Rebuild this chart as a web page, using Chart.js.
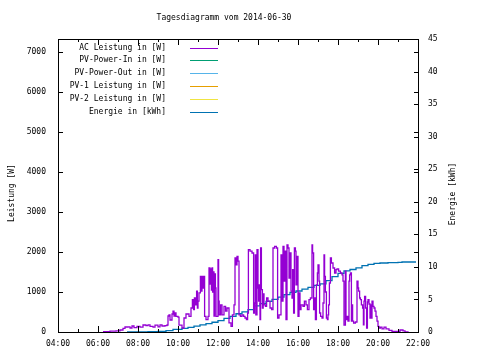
<!DOCTYPE html>
<html>
<head>
<meta charset="utf-8">
<script src="https://cdn.jsdelivr.net/npm/chart.js@4/dist/chart.umd.min.js"></script>
<style>
  html, body { margin: 0; padding: 0; background: #fff; }
  canvas { display: block; }
</style>
</head>
<body>
<canvas id="myChart" width="480" height="360"></canvas>
<script>
/* DATA */

// AC power, time of day in hours (each value holds until the next time)
const acHours = [
  6.25, 6.6, 6.9,
  7.1, 7.25, 7.35, 7.5, 7.6, 7.7, 7.8, 7.95,
  8.1, 8.25, 8.4, 8.5, 8.6, 8.75, 8.85,
  9.0, 9.1, 9.2, 9.35, 9.45, 9.5, 9.55, 9.6, 9.7, 9.75, 9.8, 9.85, 9.9,
  10.0, 10.05, 10.2, 10.3, 10.4, 10.55, 10.65, 10.72, 10.78, 10.82, 10.87, 10.93, 10.97,
  11.0, 11.05, 11.12, 11.17, 11.2, 11.24, 11.28, 11.33, 11.4, 11.5, 11.55, 11.6, 11.63, 11.67, 11.7, 11.73, 11.77, 11.8, 11.83, 11.87, 11.9,
  12.0, 12.03, 12.06, 12.13, 12.2, 12.3, 12.38, 12.45, 12.55, 12.65, 12.72, 12.8, 12.85, 12.9, 12.95,
  13.0, 13.05, 13.12, 13.2, 13.28, 13.35, 13.42, 13.48, 13.52, 13.6, 13.7, 13.78, 13.82, 13.86, 13.89, 13.95,
  14.0, 14.03, 14.06, 14.1, 14.13, 14.17, 14.22, 14.26, 14.3, 14.37, 14.43, 14.5, 14.6, 14.68, 14.75, 14.83, 14.92, 14.98,
  15.05, 15.15, 15.2, 15.25, 15.3, 15.35, 15.4, 15.45, 15.5, 15.55, 15.6, 15.65, 15.7, 15.73, 15.78, 15.82, 15.87, 15.9, 15.95,
  16.0, 16.05, 16.1, 16.15, 16.25, 16.32, 16.4, 16.47, 16.55, 16.62, 16.7, 16.73, 16.78, 16.82, 16.87, 16.92, 16.97,
  17.0, 17.05, 17.08, 17.13, 17.2, 17.25, 17.3, 17.33, 17.37, 17.42, 17.47, 17.5, 17.53, 17.57, 17.62, 17.67, 17.75, 17.83, 17.9, 17.95,
  18.03, 18.12, 18.2, 18.25, 18.3, 18.37, 18.4, 18.45, 18.5, 18.55, 18.58, 18.62, 18.67, 18.7, 18.73, 18.78, 18.87, 18.95,
  19.0, 19.03, 19.08, 19.12, 19.17, 19.23, 19.27, 19.3, 19.33, 19.38, 19.43, 19.47, 19.5, 19.55, 19.6, 19.63, 19.67, 19.7, 19.75, 19.8, 19.85, 19.9, 19.95,
  20.0, 20.05, 20.12, 20.2, 20.3, 20.4, 20.55, 20.7, 21.1, 21.25, 21.35, 21.5
];
const acWatts = [
  10, 20, 30,
  50, 90, 125, 130, 100, 150, 110, 140,
  120, 175, 160, 180, 140, 120, 170,
  130, 180, 150, 160, 175, 400, 430, 300, 450, 520, 400, 475, 390,
  370, 170, 100, 350, 450, 390, 600, 810, 560, 850, 680, 1020, 600,
  770, 980, 1390, 1020, 1390, 1100, 1390, 390, 310, 390, 1600, 1200, 1580, 1050, 1600, 1000, 1500, 400, 1450, 1100, 390,
  1810, 770, 430, 680, 430, 640, 520, 600, 230, 140, 430, 680, 1850, 1680, 1890,
  1770, 430, 390, 430, 390, 350, 310, 475, 2060, 2020, 1975, 475, 725, 1930, 430, 2060,
  1100, 770, 1180, 310, 2100, 1060, 600, 950, 680, 640, 850, 770, 600, 560, 2100, 2140, 2100, 350,
  430, 1930, 770, 2140, 1270, 2020, 310, 2180, 2100, 1350, 1975, 1020, 850, 1560, 475, 2100, 2020, 1180, 1890,
  390, 975, 560, 680, 640, 770, 680, 560, 810, 850, 2180, 1975, 560, 850, 310, 1180, 1475,
  1680, 1270, 475, 390, 350, 725, 1930, 1390, 1000, 350, 310, 430, 680, 1225, 1850, 1725, 1600, 1475, 1560, 1580,
  1520, 1475, 1430, 1270, 170, 1520, 310, 390, 270, 1270, 1430, 1475, 270, 680, 270, 225, 250, 1270,
  1100, 1020, 850, 810, 680, 600, 180, 770, 890, 600, 100, 750, 810, 700, 350, 680, 350, 770, 640, 600, 520, 390, 270,
  140, 100, 120, 80, 120, 80, 40, 17, 50, 30, 5, 0
];

// daily energy, kWh
const energyHours = [
  7.45, 8.5, 9.0, 9.4, 9.75, 10.2, 10.5, 10.8, 11.1, 11.4,
  11.7, 12.0, 12.3, 12.6, 12.9, 13.2, 13.5, 13.8, 14.1, 14.4,
  14.7, 15.0, 15.3, 15.6, 15.9, 16.2, 16.5, 16.8, 17.1, 17.4,
  17.7, 18.0, 18.3, 18.6, 18.9, 19.2, 19.5, 19.8, 20.1, 20.5,
  21.0, 21.2, 21.9
];
const energyKWh = [
  0, 0.05, 0.1, 0.2, 0.4, 0.55, 0.7, 0.9, 1.1, 1.3,
  1.5, 1.75, 2.1, 2.4, 2.8, 3.1, 3.45, 4.0, 4.35, 4.7,
  5.0, 5.35, 5.75, 6.1, 6.3, 6.6, 6.85, 7.15, 7.4, 7.9,
  8.5, 9.0, 9.4, 9.6, 9.85, 10.2, 10.4, 10.55, 10.6, 10.65,
  10.7, 10.75, 10.75
];

// series with no readings on this day
const pvInWatts = [];
const pvOutWatts = [];
const pv1Watts = [];
const pv2Watts = [];

const xTickHours = [4, 6, 8, 10, 12, 14, 16, 18, 20, 22];
const yTickValues = [0, 1000, 2000, 3000, 4000, 5000, 6000, 7000];
const y2TickValues = [0, 5, 10, 15, 20, 25, 30, 35, 40, 45];

const FONT = '"DejaVu Sans Mono", "Liberation Mono", monospace';

function toPoints(xs, ys) {
  return xs.map(function (x, i) { return { x: x, y: ys[i] }; });
}

function hourLabel(h) {
  return String(h).padStart(2, '0') + ':00';
}

/* FRAME, TICKS, LEGEND (gnuplot look) */

const gnuplotFrame = {
  id: 'gnuplotFrame',
  afterDatasetsDraw: function (chart) {
    const ctx = chart.ctx;
    const a = chart.chartArea;
    const sx = chart.scales.x, sy = chart.scales.y, sy2 = chart.scales.y2;

    ctx.save();
    ctx.strokeStyle = '#000';
    ctx.lineWidth = 1;
    ctx.strokeRect(a.left + 0.5, a.top + 0.5, a.right - a.left, a.bottom - a.top);

    ctx.beginPath();
    // x tics every hour, longer on the labelled ones
    for (let h = 4; h <= 22; h++) {
      const px = Math.round(sx.getPixelForValue(h)) + 0.5;
      const len = h % 2 === 0 ? 6 : 3;
      ctx.moveTo(px, a.bottom); ctx.lineTo(px, a.bottom - len);
      ctx.moveTo(px, a.top); ctx.lineTo(px, a.top + len);
    }
    // y tics left, mirrored right
    yTickValues.forEach(function (v) {
      const py = Math.round(sy.getPixelForValue(v)) + 0.5;
      ctx.moveTo(a.left, py); ctx.lineTo(a.left + 5, py);
      ctx.moveTo(a.right + 1, py); ctx.lineTo(a.right - 4, py);
    });
    // y2 tics right
    y2TickValues.forEach(function (v) {
      const py = Math.round(sy2.getPixelForValue(v)) + 0.5;
      ctx.moveTo(a.right + 1, py); ctx.lineTo(a.right - 4, py);
    });
    ctx.stroke();

    ctx.fillStyle = '#000';
    ctx.font = '8px ' + FONT;
    ctx.textBaseline = 'middle';

    // title
    ctx.textAlign = 'center';
    ctx.fillText('Tagesdiagramm vom 2014-06-30', 224, 18);

    // axis titles
    ctx.save();
    ctx.translate(12, 193);
    ctx.rotate(-Math.PI / 2);
    ctx.fillText('Leistung [W]', 0, 0);
    ctx.restore();

    ctx.save();
    ctx.translate(453, 194);
    ctx.rotate(-Math.PI / 2);
    ctx.fillText('Energie [kWh]', 0, 0);
    ctx.restore();

    // key, top left inside the plot
    chart.data.datasets.forEach(function (ds, i) {
      const y = 47.5 + i * 12.9;
      ctx.fillStyle = '#000';
      ctx.textAlign = 'right';
      ctx.fillText(ds.label, 166, y);
      const ly = Math.round(y) + 0.5;
      ctx.strokeStyle = ds.borderColor;
      ctx.beginPath();
      ctx.moveTo(190, ly); ctx.lineTo(218, ly);
      ctx.stroke();
    });

    ctx.restore();
  }
};

/* CHART */

const tickFont = { family: FONT, size: 8 };

const ctx = document.getElementById('myChart').getContext('2d');

const chart = new Chart(ctx, {
  type: 'line',
  data: {
    datasets: [
      {
        label: 'AC Leistung in [W]',
        data: toPoints(acHours, acWatts),
        borderColor: '#9400d3',
        borderWidth: 1.3,
        stepped: true,
        pointRadius: 0,
        yAxisID: 'y'
      },
      {
        label: 'PV-Power-In in [W]',
        data: pvInWatts,
        borderColor: '#009e73',
        borderWidth: 1,
        pointRadius: 0,
        yAxisID: 'y'
      },
      {
        label: 'PV-Power-Out in [W]',
        data: pvOutWatts,
        borderColor: '#56b4e9',
        borderWidth: 1,
        pointRadius: 0,
        yAxisID: 'y'
      },
      {
        label: 'PV-1 Leistung in [W]',
        data: pv1Watts,
        borderColor: '#e69f00',
        borderWidth: 1,
        pointRadius: 0,
        yAxisID: 'y'
      },
      {
        label: 'PV-2 Leistung in [W]',
        data: pv2Watts,
        borderColor: '#f0e442',
        borderWidth: 1,
        pointRadius: 0,
        yAxisID: 'y'
      },
      {
        label: 'Energie in [kWh]',
        data: toPoints(energyHours, energyKWh),
        borderColor: '#0072b2',
        borderWidth: 1.3,
        stepped: true,
        pointRadius: 0,
        yAxisID: 'y2'
      }
    ]
  },
  options: {
    responsive: false,
    animation: false,
    devicePixelRatio: 1,
    layout: { padding: { top: 39, left: 0, right: 0, bottom: 0 } },
    plugins: {
      legend: { display: false },
      tooltip: { enabled: false }
    },
    scales: {
      x: {
        type: 'linear',
        min: 4,
        max: 22,
        afterBuildTicks: function (s) { s.ticks = xTickHours.map(function (v) { return { value: v }; }); },
        afterFit: function (s) { s.height = 28; },
        grid: { display: false, drawTicks: false },
        border: { display: false },
        ticks: {
          font: tickFont, color: '#000', padding: 7,
          maxRotation: 0, autoSkip: false,
          callback: function (v) { return hourLabel(v); }
        }
      },
      y: {
        position: 'left',
        min: 0,
        max: 7325,
        afterBuildTicks: function (s) { s.ticks = yTickValues.map(function (v) { return { value: v }; }); },
        afterFit: function (s) { s.width = 58; },
        grid: { display: false, drawTicks: false },
        border: { display: false },
        ticks: {
          font: tickFont, color: '#000', padding: 12,
          callback: function (v) { return String(v); }
        }
      },
      y2: {
        position: 'right',
        min: 0,
        max: 45,
        afterBuildTicks: function (s) { s.ticks = y2TickValues.map(function (v) { return { value: v }; }); },
        afterFit: function (s) { s.width = 62; },
        grid: { display: false, drawTicks: false },
        border: { display: false },
        ticks: {
          font: tickFont, color: '#000', padding: 10,
          callback: function (v) { return String(v); }
        }
      }
    }
  },
  plugins: [gnuplotFrame]
});
</script>
</body>
</html>
